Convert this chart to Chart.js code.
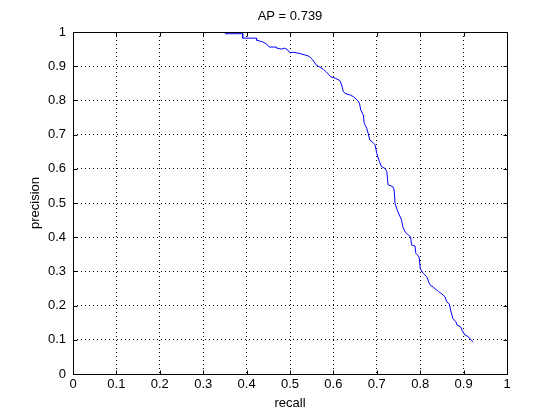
<!DOCTYPE html>
<html>
<head>
<meta charset="utf-8">
<title>AP = 0.739</title>
<script src="https://cdn.jsdelivr.net/npm/chart.js@4/dist/chart.umd.min.js"></script>
<style>
  html,body{margin:0;padding:0;background:#fff;}
  #wrap{width:560px;height:420px;position:relative;}
</style>
</head>
<body>
<div id="wrap"><canvas id="pr"></canvas></div>
<script>
// precision / recall curve values
const recall = [
  0.350,0.391,0.391,0.423,0.423,0.437,0.446,0.452,0.469,0.469,
  0.481,0.488,0.495,0.500,0.507,0.523,0.537,0.544,0.552,0.560,
  0.569,0.577,0.583,0.588,0.594,0.604,0.615,0.619,0.623,0.629,
  0.638,0.646,0.655,0.660,0.663,0.669,0.671,0.677,0.680,0.684,
  0.691,0.696,0.700,0.706,0.711,0.719,0.723,0.726,0.737,0.740,
  0.742,0.747,0.752,0.757,0.760,0.765,0.773,0.778,0.780,0.788,
  0.790,0.796,0.798,0.800,0.803,0.807,0.815,0.821,0.823,0.830,
  0.842,0.850,0.857,0.861,0.867,0.870,0.875,0.882,0.885,0.893,
  0.898,0.903,0.911,0.916,0.922
];
const precision = [
  0.995,0.995,0.982,0.982,0.976,0.971,0.965,0.956,0.956,0.953,
  0.950,0.953,0.947,0.939,0.941,0.937,0.932,0.929,0.919,0.904,
  0.897,0.891,0.884,0.877,0.869,0.865,0.858,0.845,0.825,0.819,
  0.816,0.811,0.801,0.792,0.772,0.757,0.733,0.718,0.704,0.684,
  0.677,0.670,0.645,0.621,0.606,0.601,0.592,0.553,0.548,0.538,
  0.499,0.480,0.465,0.450,0.431,0.416,0.406,0.401,0.377,0.374,
  0.353,0.345,0.338,0.309,0.302,0.294,0.285,0.265,0.260,0.254,
  0.241,0.234,0.226,0.211,0.205,0.187,0.163,0.153,0.143,0.138,
  0.124,0.114,0.109,0.101,0.094
];
const xTicks = [0,0.1,0.2,0.3,0.4,0.5,0.6,0.7,0.8,0.9,1];
const yTicks = [0,0.1,0.2,0.3,0.4,0.5,0.6,0.7,0.8,0.9,1];
const titleText = 'AP = 0.739';

const FONT = 'Arial, "Liberation Sans", Helvetica, sans-serif';
const pts = recall.map((r,i)=>({x:r, y:precision[i]}));

// box round the axes plus inward tick marks, like the matlab look
const boxPlugin = {
  id:'box',
  afterDraw(chart){
    const {ctx, chartArea:a, scales:{x, y}} = chart;
    ctx.save();
    ctx.strokeStyle='#000'; ctx.lineWidth=1;
    ctx.beginPath();
    const L=Math.round(a.left)+0.5, R=Math.round(a.right)+0.5, T=Math.round(a.top)+0.5, B=Math.round(a.bottom)+0.5;
    ctx.rect(L, T, R-L, B-T);
    const tl=4;
    xTicks.forEach(v=>{
      const px=Math.round(x.getPixelForValue(v))+0.5;
      ctx.moveTo(px,B); ctx.lineTo(px,B-tl);
      ctx.moveTo(px,T); ctx.lineTo(px,T+tl);
    });
    yTicks.forEach(v=>{
      const py=Math.round(y.getPixelForValue(v))+0.5;
      ctx.moveTo(L,py); ctx.lineTo(L+tl,py);
      ctx.moveTo(R,py); ctx.lineTo(R-tl,py);
    });
    ctx.stroke();
    ctx.restore();
  }
};

const fmtTick = (v)=> (Math.round(v*10)/10).toString();

new Chart(document.getElementById('pr'), {
  type:'line',
  data:{datasets:[{
    data:pts, borderColor:'#0000ff', borderWidth:1, pointRadius:0,
    fill:false, tension:0
  }]},
  options:{
    responsive:true, maintainAspectRatio:false, animation:false,
    // left pad + empty right axis keep the title centred over the plot
    layout:{padding:{left:20, right:0, top:0, bottom:0}},
    plugins:{
      legend:{display:false}, tooltip:{enabled:false},
      title:{display:true, text:titleText, color:'#000',
        font:{family:FONT, size:13, weight:'normal'}, padding:{top:9, bottom:7.4}}
    },
    scales:{
      x:{type:'linear', min:0, max:1,
        afterFit:(s)=>{ s.height=46; },
        afterBuildTicks:(s)=>{ s.ticks=xTicks.map(v=>({value:v})); },
        ticks:{color:'#000', padding:3, font:{family:FONT, size:13}, callback:fmtTick, maxRotation:0, autoSkip:false},
        grid:{color:'#000', lineWidth:1, drawTicks:false},
        border:{display:false, dash:[1,3]},
        title:{display:true, text:'recall', color:'#000', font:{family:FONT, size:13}, padding:{top:0, bottom:9}}
      },
      y:{type:'linear', min:0, max:1,
        afterFit:(s)=>{ s.width=53; },
        afterBuildTicks:(s)=>{ s.ticks=yTicks.map(v=>({value:v})); },
        ticks:{color:'#000', padding:7, font:{family:FONT, size:13}, callback:fmtTick, autoSkip:false},
        grid:{color:'#000', lineWidth:1, drawTicks:false},
        border:{display:false, dash:[1,3]},
        title:{display:true, text:'precision', color:'#000', font:{family:FONT, size:13}, padding:{top:8, bottom:0}}
      },
      yRight:{type:'linear', position:'right', min:0, max:1,
        afterFit:(s)=>{ s.width=53; },
        ticks:{display:false}, grid:{display:false}, border:{display:false}
      }
    }
  },
  plugins:[boxPlugin]
});
</script>
</body>
</html>
